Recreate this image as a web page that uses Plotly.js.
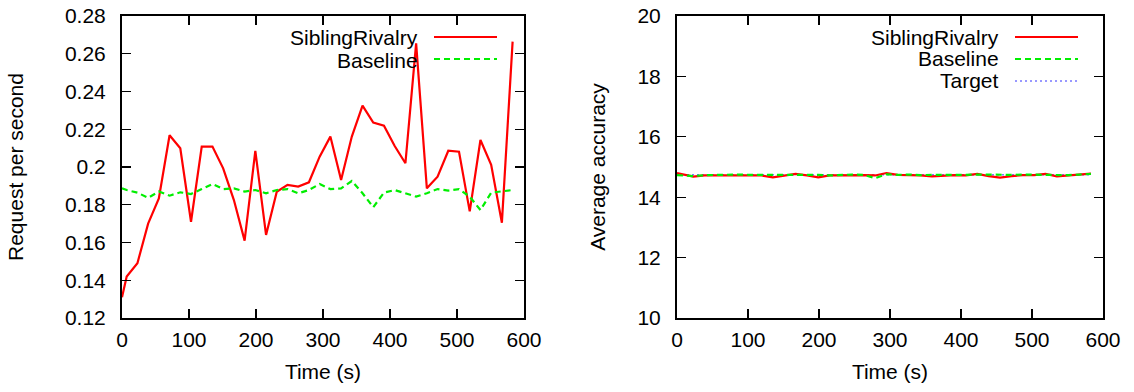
<!DOCTYPE html>
<html>
<head>
<meta charset="utf-8">
<script src="https://cdn.plot.ly/plotly-3.0.1.min.js"></script>
<style>html,body{margin:0;padding:0;background:#fff}#chart{width:1134px;height:392px}</style>
</head>
<body>
<div id="chart"></div>
<script>
// Time stamps (s)
const time = [0, 7, 23, 39, 55, 71, 87, 103, 119, 135, 151, 167, 183, 199, 215, 231, 247, 263, 279, 295,
  311, 327, 343, 359, 375, 391, 407, 423, 439, 455, 471, 487, 503, 519, 535, 551, 567, 583];

// Left panel: requests per second
const rpsSibling = [0.131, 0.142, 0.149, 0.170, 0.1834, 0.2168, 0.2099, 0.171, 0.2108, 0.2108, 0.1993, 0.1825,
  0.161, 0.2085, 0.164, 0.1869, 0.1905, 0.1896, 0.1919, 0.2055, 0.2161, 0.1931, 0.2161, 0.2325, 0.2235,
  0.2219, 0.2111, 0.2020, 0.2655, 0.1887, 0.1949, 0.2086, 0.2081, 0.1765, 0.2143, 0.2011, 0.1705, 0.2664];
const rpsBaseline = [0.1887, 0.1878, 0.1864, 0.1837, 0.1870, 0.1848, 0.1866, 0.1857, 0.1883, 0.1910, 0.1883,
  0.1887, 0.1870, 0.1878, 0.1861, 0.1878, 0.1883, 0.1861, 0.1878, 0.1910, 0.1883, 0.1887, 0.1926, 0.1861,
  0.1787, 0.1864, 0.1878, 0.1861, 0.1843, 0.1861, 0.1883, 0.1875, 0.1883, 0.1843, 0.1772, 0.1864, 0.1870, 0.1878];

// Right panel: average accuracy
const accSibling = [14.80, 14.77, 14.68, 14.72, 14.72, 14.73, 14.72, 14.73, 14.72, 14.66, 14.72, 14.77, 14.72,
  14.66, 14.72, 14.73, 14.72, 14.73, 14.72, 14.80, 14.74, 14.74, 14.72, 14.69, 14.72, 14.73, 14.72, 14.77,
  14.70, 14.65, 14.70, 14.73, 14.73, 14.77, 14.69, 14.72, 14.76, 14.78];
const accBaseline = [14.73, 14.72, 14.70, 14.73, 14.74, 14.74, 14.75, 14.74, 14.74, 14.73, 14.74, 14.75, 14.74,
  14.74, 14.72, 14.74, 14.75, 14.74, 14.63, 14.76, 14.74, 14.75, 14.73, 14.74, 14.74, 14.72, 14.74, 14.75,
  14.74, 14.73, 14.74, 14.75, 14.74, 14.73, 14.74, 14.73, 14.75, 14.77];
const targetTime = [0, 583];
const accTarget = [14.74, 14.74];

// Tick labels
const xTicks = [0, 100, 200, 300, 400, 500, 600];
const yTicksLeft = [0.12, 0.14, 0.16, 0.18, 0.2, 0.22, 0.24, 0.26, 0.28];
const yTicksLeftText = ['0.12', '0.14', '0.16', '0.18', '0.2', '0.22', '0.24', '0.26', '0.28'];
const yTicksRight = [10, 12, 14, 16, 18, 20];

const W = 1134, H = 392;
const px = x => x / W, py = y => 1 - y / H;
const FONT = 'Liberation Sans, Arial, sans-serif';
const FS = 21;
const RED = '#ff0000', GREEN = '#00ee00', BLUE = '#3333ff';

const traces = [
  {x: time, y: rpsSibling, xaxis: 'x', yaxis: 'y', mode: 'lines', line: {color: RED, width: 2.2}},
  {x: time, y: rpsBaseline, xaxis: 'x', yaxis: 'y', mode: 'lines', line: {color: GREEN, width: 2.2, dash: '6px,4px'}},
  {x: targetTime, y: accTarget, xaxis: 'x2', yaxis: 'y2', mode: 'lines', line: {color: BLUE, width: 1, dash: '2px,3px'}},
  {x: time, y: accSibling, xaxis: 'x2', yaxis: 'y2', mode: 'lines', line: {color: RED, width: 2.2}},
  {x: time, y: accBaseline, xaxis: 'x2', yaxis: 'y2', mode: 'lines', line: {color: GREEN, width: 2.2, dash: '6px,4px'}}
];

const axBase = {
  showgrid: false, zeroline: false, showline: true, mirror: 'allticks',
  linecolor: '#000', linewidth: 2, ticks: 'inside', ticklen: 9, tickwidth: 1.3, tickcolor: '#000',
  tickfont: {family: FONT, size: FS, color: '#000'}, fixedrange: true
};

const yDom = [py(318), py(16)];

const layout = {
  width: W, height: H, showlegend: false,
  paper_bgcolor: '#fff', plot_bgcolor: '#fff',
  margin: {l: 0, r: 0, t: 0, b: 0},
  font: {family: FONT, size: FS, color: '#000'},
  xaxis: Object.assign({}, axBase, {domain: [px(122), px(524)], range: [0, 600], tickvals: xTicks, anchor: 'y',
    ticklabelstandoff: 2, title: {text: 'Time (s)', font: {family: FONT, size: FS}, standoff: 14}}),
  yaxis: Object.assign({}, axBase, {domain: yDom, range: [0.12, 0.28], tickvals: yTicksLeft, ticktext: yTicksLeftText, anchor: 'x',
    ticklabelstandoff: 10, title: {text: 'Request per second', font: {family: FONT, size: FS}, standoff: 36}}),
  xaxis2: Object.assign({}, axBase, {domain: [px(677), px(1103)], range: [0, 600], tickvals: xTicks, anchor: 'y2',
    ticklabelstandoff: 2, title: {text: 'Time (s)', font: {family: FONT, size: FS}, standoff: 14}}),
  yaxis2: Object.assign({}, axBase, {domain: yDom, range: [10, 20], tickvals: yTicksRight, anchor: 'x2',
    ticklabelstandoff: 10, title: {text: 'Average accuracy', font: {family: FONT, size: FS}, standoff: 26}}),
  annotations: [
    {xref: 'paper', yref: 'paper', x: px(420), y: py(38), xanchor: 'right', yanchor: 'middle', showarrow: false, text: 'SiblingRivalry'},
    {xref: 'paper', yref: 'paper', x: px(420), y: py(60), xanchor: 'right', yanchor: 'middle', showarrow: false, text: 'Baseline'},
    {xref: 'paper', yref: 'paper', x: px(1001), y: py(38), xanchor: 'right', yanchor: 'middle', showarrow: false, text: 'SiblingRivalry'},
    {xref: 'paper', yref: 'paper', x: px(1001), y: py(59), xanchor: 'right', yanchor: 'middle', showarrow: false, text: 'Baseline'},
    {xref: 'paper', yref: 'paper', x: px(1001), y: py(81), xanchor: 'right', yanchor: 'middle', showarrow: false, text: 'Target'}
  ],
  shapes: [
    {type: 'line', xref: 'paper', yref: 'paper', x0: px(434), x1: px(497), y0: py(37), y1: py(37), line: {color: RED, width: 2.2}},
    {type: 'line', xref: 'paper', yref: 'paper', x0: px(434), x1: px(497), y0: py(59), y1: py(59), line: {color: GREEN, width: 2.2, dash: '6px,4px'}},
    {type: 'line', xref: 'paper', yref: 'paper', x0: px(1015), x1: px(1078), y0: py(37), y1: py(37), line: {color: RED, width: 2.2}},
    {type: 'line', xref: 'paper', yref: 'paper', x0: px(1015), x1: px(1078), y0: py(59), y1: py(59), line: {color: GREEN, width: 2.2, dash: '6px,4px'}},
    {type: 'line', xref: 'paper', yref: 'paper', x0: px(1015), x1: px(1078), y0: py(81), y1: py(81), line: {color: BLUE, width: 1, dash: '2px,3px'}}
  ]
};

Plotly.newPlot('chart', traces, layout, {staticPlot: true, displayModeBar: false});
</script>
</body>
</html>
